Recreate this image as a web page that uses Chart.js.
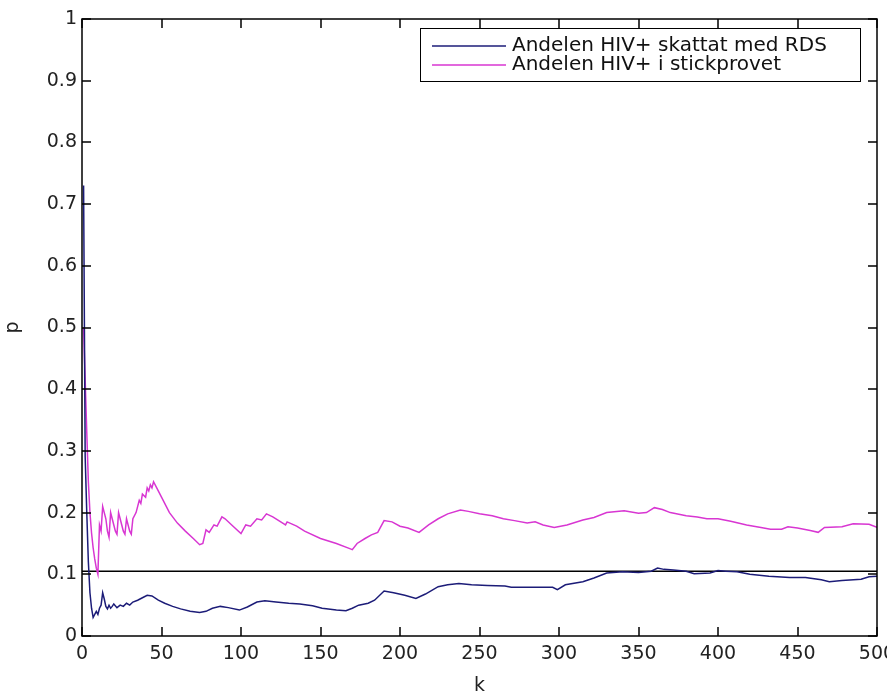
<!DOCTYPE html>
<html>
<head>
<meta charset="utf-8">
<script src="https://cdn.jsdelivr.net/npm/chart.js@4"></script>
<style>
  html, body { margin: 0; padding: 0; background: #fff; }
  #wrap { width: 887px; height: 697px; }
</style>
</head>
<body>
<div id="wrap"><canvas id="myChart"></canvas></div>
<script>
// RDS estimate of HIV+ share, by number of recruits k
const rdsK = [1, 2, 3, 4, 5, 6, 7, 8, 9, 10, 11, 12, 13, 14, 15, 16, 17, 18, 19, 20,
  22, 24, 26, 28, 30, 32, 35, 38, 41, 44, 48, 52, 57, 62, 68, 74, 78, 82, 87, 92,
  99, 104, 110, 115, 122, 130, 137, 145, 151, 160, 166, 170, 174, 180, 184, 190, 196, 203, 210, 216,
  224, 230, 237, 245, 255, 266, 270, 280, 296, 299, 304, 315, 322, 330, 340, 350, 358, 362, 366, 372,
  380, 385, 395, 400, 405, 412, 420, 432, 445, 455, 465, 470, 478, 490, 495, 500];
const rdsP = [0.73, 0.29, 0.2, 0.12, 0.07, 0.045, 0.03, 0.035, 0.04, 0.035, 0.045, 0.05, 0.07, 0.06, 0.048, 0.044, 0.05, 0.045, 0.048, 0.052,
  0.046, 0.05, 0.048, 0.053, 0.05, 0.055, 0.058, 0.062, 0.066, 0.065, 0.058, 0.053, 0.048, 0.044, 0.04, 0.038, 0.04, 0.045, 0.048, 0.046,
  0.042, 0.047, 0.055, 0.057, 0.055, 0.053, 0.052, 0.049, 0.045, 0.042, 0.041, 0.045, 0.05, 0.053, 0.058, 0.073, 0.07, 0.066, 0.061, 0.068,
  0.08, 0.083, 0.085, 0.083, 0.082, 0.081, 0.079, 0.079, 0.079, 0.075, 0.083, 0.088, 0.094, 0.102, 0.104, 0.103, 0.105, 0.11, 0.108, 0.107,
  0.105, 0.101, 0.102, 0.106, 0.105, 0.104, 0.1, 0.097, 0.095, 0.095, 0.091, 0.088, 0.09, 0.092, 0.096, 0.097];

// plain share of HIV+ in the sample
const sampleK = [1, 3, 4, 5, 6, 7, 8, 9, 10, 11, 12, 13, 14, 15, 16, 17, 18, 19, 20, 21,
  22, 23, 24, 25, 26, 27, 28, 29, 30, 31, 32, 34, 36, 37, 38, 40, 41, 42, 43, 44,
  45, 47, 50, 55, 60, 65, 70, 74, 76, 78, 80, 83, 85, 88, 90, 95, 100, 103, 106, 110,
  113, 116, 120, 125, 128, 129, 135, 140, 150, 160, 168, 170, 173, 178, 182, 186, 190, 195, 200, 205,
  212, 218, 224, 230, 238, 243, 250, 258, 265, 272, 280, 285, 290, 297, 305, 315, 322, 330, 341, 350,
  355, 360, 365, 370, 380, 387, 393, 400, 408, 418, 427, 433, 440, 444, 450, 458, 463, 467, 478, 485,
  495, 500];
const sampleP = [0.5, 0.33, 0.25, 0.2, 0.167, 0.143, 0.125, 0.11, 0.1, 0.18, 0.17, 0.21, 0.2, 0.19, 0.17, 0.16, 0.2, 0.19, 0.18, 0.17,
  0.165, 0.2, 0.19, 0.18, 0.17, 0.165, 0.19, 0.18, 0.17, 0.165, 0.19, 0.2, 0.22, 0.215, 0.23, 0.225, 0.24, 0.235, 0.245, 0.24,
  0.25, 0.24, 0.225, 0.2, 0.183, 0.17, 0.158, 0.148, 0.15, 0.172, 0.168, 0.18, 0.178, 0.193, 0.19, 0.178, 0.166, 0.18, 0.178, 0.19,
  0.188, 0.198, 0.193, 0.185, 0.18, 0.185, 0.178, 0.17, 0.158, 0.15, 0.142, 0.14, 0.15, 0.158, 0.164, 0.168, 0.187, 0.185, 0.178, 0.175,
  0.168, 0.18, 0.19, 0.198, 0.204, 0.202, 0.198, 0.195, 0.19, 0.187, 0.183, 0.185, 0.18, 0.176, 0.18, 0.188, 0.192, 0.2, 0.203, 0.199,
  0.2, 0.208, 0.205, 0.2, 0.195, 0.193, 0.19, 0.19, 0.186, 0.18, 0.176, 0.173, 0.173, 0.177, 0.175, 0.171, 0.168, 0.176, 0.177, 0.182,
  0.181, 0.176];

// true share in the population (reference line)
const trueK = [0, 500];
const trueP = [0.105, 0.105];

const seriesNames = ["Andelen HIV+ skattat med RDS", "Andelen HIV+ i stickprovet"];
const xTicks = [0, 50, 100, 150, 200, 250, 300, 350, 400, 450, 500];
const yTicks = [0, 0.1, 0.2, 0.3, 0.4, 0.5, 0.6, 0.7, 0.8, 0.9, 1];

const FONT = "DejaVu Sans";
const BLUE = "#1c1c78";
const PINK = "#d836d2";

function toPoints(ks, ps) {
  return ks.map((k, i) => ({ x: k, y: ps[i] }));
}

// box around the axes with inward tick marks on all four sides
const frame = {
  id: "frame",
  afterDatasetsDraw(chart) {
    const { ctx, chartArea: a, scales } = chart;
    ctx.save();
    ctx.strokeStyle = "#000";
    ctx.lineWidth = 1.5;
    ctx.beginPath();
    xTicks.forEach((v) => {
      const px = Math.round(scales.x.getPixelForValue(v));
      ctx.moveTo(px, a.bottom); ctx.lineTo(px, a.bottom - 9);
      ctx.moveTo(px, a.top); ctx.lineTo(px, a.top + 9);
    });
    yTicks.forEach((v) => {
      const py = Math.round(scales.y.getPixelForValue(v));
      ctx.moveTo(a.left, py); ctx.lineTo(a.left + 9, py);
      ctx.moveTo(a.right, py); ctx.lineTo(a.right - 9, py);
    });
    ctx.stroke();
    ctx.strokeRect(a.left, a.top, a.right - a.left, a.bottom - a.top);
    ctx.restore();
  },
};

// boxed legend in the upper right corner
const boxLegend = {
  id: "boxLegend",
  afterDraw(chart) {
    const { ctx, chartArea: a } = chart;
    const right = a.right - 17, top = a.top + 9;
    const w = 440, h = 53;
    const left = right - w;
    ctx.save();
    ctx.fillStyle = "#fff";
    ctx.fillRect(left, top, w, h);
    ctx.strokeStyle = "#000";
    ctx.lineWidth = 1;
    ctx.strokeRect(left + 0.5, top + 0.5, w, h);
    const colors = [BLUE, PINK];
    ctx.font = "20px " + FONT;
    ctx.textBaseline = "middle";
    seriesNames.forEach((name, i) => {
      const y = top + 18 + i * 19;
      ctx.strokeStyle = colors[i];
      ctx.lineWidth = 1.5;
      ctx.beginPath();
      ctx.moveTo(left + 12, y);
      ctx.lineTo(left + 86, y);
      ctx.stroke();
      ctx.fillStyle = "#111";
      ctx.fillText(name, left + 92, y);
    });
    ctx.restore();
  },
};

new Chart(document.getElementById("myChart"), {
  type: "line",
  data: {
    datasets: [
      { label: seriesNames[0], data: toPoints(rdsK, rdsP), borderColor: BLUE, borderWidth: 1.5 },
      { label: seriesNames[1], data: toPoints(sampleK, sampleP), borderColor: PINK, borderWidth: 1.5 },
      { label: "p", data: toPoints(trueK, trueP), borderColor: "#000", borderWidth: 1.5 },
    ],
  },
  options: {
    responsive: true,
    maintainAspectRatio: false,
    animation: false,
    elements: { point: { radius: 0 }, line: { tension: 0 } },
    layout: { padding: { left: 0, top: 19, right: 10, bottom: 0 } },
    plugins: { legend: { display: false }, tooltip: { enabled: false } },
    scales: {
      x: {
        type: "linear",
        min: 0,
        max: 500,
        afterBuildTicks: (s) => { s.ticks = xTicks.map((v) => ({ value: v })); },
        afterFit: (s) => { s.height = 61; s.paddingLeft = 0; s.paddingRight = 0; },
        grid: { display: false, drawTicks: false },
        border: { display: false },
        ticks: { color: "#222", font: { family: FONT, size: 19 }, padding: 7, maxRotation: 0, autoSkip: false },
        title: { display: true, text: "k", color: "#222", font: { family: FONT, size: 19 }, padding: { top: 0, bottom: 0 } },
      },
      y: {
        type: "linear",
        min: 0,
        max: 1,
        afterBuildTicks: (s) => { s.ticks = yTicks.map((v) => ({ value: v })); },
        afterFit: (s) => { s.width = 82; s.paddingTop = 0; s.paddingBottom = 0; },
        grid: { display: false, drawTicks: false },
        border: { display: false },
        ticks: {
          color: "#222",
          font: { family: FONT, size: 19 },
          padding: 5,
          autoSkip: false,
          callback: (v) => (v === 0 || v === 1 ? String(v) : v.toFixed(1)),
        },
        title: { display: true, text: "p", color: "#222", font: { family: FONT, size: 19 }, padding: { top: 2, bottom: 0 } },
      },
    },
  },
  plugins: [frame, boxLegend],
});
</script>
</body>
</html>
